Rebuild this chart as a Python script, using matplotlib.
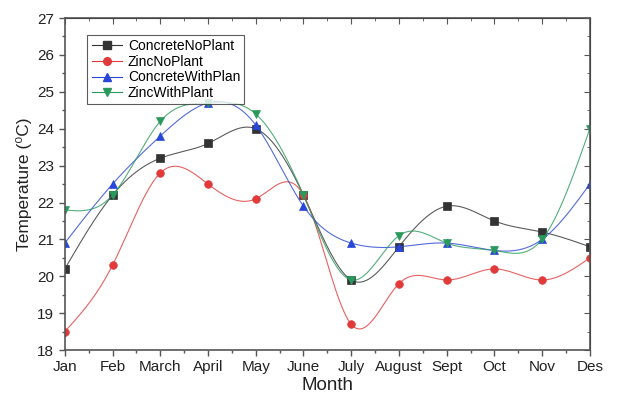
import numpy as np
import matplotlib
matplotlib.use("Agg")
from matplotlib import pyplot as plt
from matplotlib.ticker import MultipleLocator

plt.rcParams['font.family'] = ['Liberation Sans', 'DejaVu Sans']

months = ['Jan', 'Feb', 'March', 'April', 'May', 'June', 'July', 'August',
          'Sept', 'Oct', 'Nov', 'Des']
concrete_no_plant = [20.2, 22.2, 23.2, 23.6, 24.0, 22.2, 19.9, 20.8, 21.9, 21.5, 21.2, 20.8]
zinc_no_plant = [18.5, 20.3, 22.8, 22.5, 22.1, 22.2, 18.7, 19.8, 19.9, 20.2, 19.9, 20.5]
concrete_with_plan = [20.9, 22.5, 23.8, 24.7, 24.1, 21.9, 20.9, 20.8, 20.9, 20.7, 21.0, 22.5]
zinc_with_plant = [21.8, 22.2, 24.2, 24.7, 24.4, 22.2, 19.9, 21.1, 20.9, 20.7, 21.0, 24.0]


def spline(x, y, n=400):
    # natural cubic spline through the points, for the smooth connecting line
    x = np.asarray(x, float)
    y = np.asarray(y, float)
    k = len(x)
    h = np.diff(x)
    A = np.zeros((k, k))
    b = np.zeros(k)
    A[0, 0] = A[-1, -1] = 1
    for i in range(1, k - 1):
        A[i, i - 1] = h[i - 1]
        A[i, i] = 2 * (h[i - 1] + h[i])
        A[i, i + 1] = h[i]
        b[i] = 6 * ((y[i + 1] - y[i]) / h[i] - (y[i] - y[i - 1]) / h[i - 1])
    m = np.linalg.solve(A, b)
    xs = np.linspace(x[0], x[-1], n)
    idx = np.clip(np.searchsorted(x, xs) - 1, 0, k - 2)
    x0, x1 = x[idx], x[idx + 1]
    hh = x1 - x0
    t0 = x1 - xs
    t1 = xs - x0
    ys = (m[idx] * t0 ** 3 + m[idx + 1] * t1 ** 3) / (6 * hh) \
        + (y[idx] / hh - m[idx] * hh / 6) * t0 \
        + (y[idx + 1] / hh - m[idx + 1] * hh / 6) * t1
    return xs, ys


fig = plt.figure(figsize=(6.17, 4.01), dpi=100)
ax = fig.add_axes([0.105, 0.127, 0.851, 0.828])

x = np.arange(len(months))
series = [
    ('ConcreteNoPlant', concrete_no_plant, '#333333', 's'),
    ('ZincNoPlant', zinc_no_plant, '#e03a3a', 'o'),
    ('ConcreteWithPlan', concrete_with_plan, '#2846d8', '^'),
    ('ZincWithPlant', zinc_with_plant, '#2a9a5c', 'v'),
]
for lab, vals, col, mk in series:
    xs, ys = spline(x, vals)
    ax.plot(xs, ys, '-', color=col, lw=0.8, alpha=0.8)
    ax.plot(x, vals, mk, color=col, ms=5.5, mec=col, mew=0.5)
    ax.plot([], [], '-' + mk, color=col, lw=0.8, ms=5.5, label=lab)

ax.set_xlim(0, 11)
ax.set_ylim(18, 27)
ax.set_xticks(x)
ax.set_xticklabels(months)
ax.xaxis.set_minor_locator(MultipleLocator(0.5))
ax.yaxis.set_minor_locator(MultipleLocator(0.5))
ax.tick_params(which='both', direction='out', labelsize=11, width=1, color='#555555',
               labelcolor='#222222')
ax.tick_params(which='major', length=4)
ax.tick_params(which='minor', length=2.5)
for s in ax.spines.values():
    s.set_linewidth(1.2)
    s.set_color('#555555')

top = ax.secondary_xaxis('top')
top.set_xticks(x)
top.xaxis.set_minor_locator(MultipleLocator(0.5))
top.tick_params(which='both', direction='in', labeltop=False, color='#555555')
top.tick_params(which='major', length=4)
top.tick_params(which='minor', length=2.5)
right = ax.secondary_yaxis('right')
right.yaxis.set_minor_locator(MultipleLocator(0.5))
right.tick_params(which='both', direction='in', labelright=False, color='#555555')
right.tick_params(which='major', length=4)
right.tick_params(which='minor', length=2.5)

ax.set_xlabel('Month', fontsize=13.5, labelpad=2, color='#222222')
ax.set_ylabel('Temperature (\u2070C)', fontsize=12.5, labelpad=4, color='#222222')

leg = ax.legend(loc='upper left', bbox_to_anchor=(0.03, 0.97), fontsize=10,
                frameon=True, fancybox=False, edgecolor='#333333',
                handlelength=2.2, borderpad=0.3, labelspacing=0.12,
                handletextpad=0.4)
leg.get_frame().set_linewidth(0.8)

fig.savefig('out.png', dpi=100)
